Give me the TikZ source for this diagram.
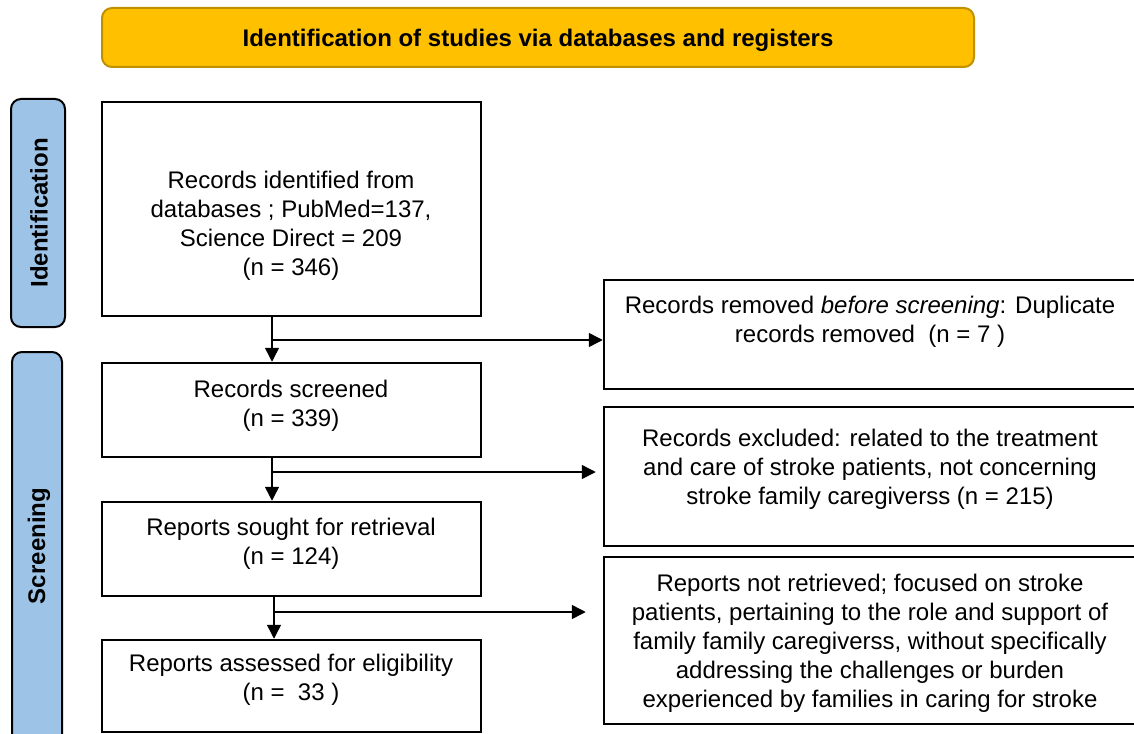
\documentclass[tikz,border=0pt]{standalone}
\usepackage{fontspec}
\setmainfont{Liberation Sans}
\usetikzlibrary{arrows.meta}
\usetikzlibrary{calc}
\usetikzlibrary{fit}
\usetikzlibrary{positioning}

\definecolor{titlefill}{HTML}{FFC000}
\definecolor{titleline}{HTML}{BF9000}
\definecolor{barfill}{HTML}{9DC3E6}

\begin{document}
\begin{tikzpicture}[x=0.5pt,y=-0.5pt,
    every node/.style={font=\fontsize{12}{14.5}\selectfont},
    flowbox/.style={draw,rectangle,line width=1.25pt,inner sep=0pt},
    stagebar/.style={draw,rectangle,rounded corners=5pt,line width=1pt,fill=barfill,inner sep=0pt},
    stagetext/.style={rotate=90,font=\fontsize{12}{14.5}\selectfont\bfseries},
    boxtext/.style={align=center,inner sep=0pt}]

  \useasboundingbox (0,0) rectangle (1134,733);
  \clip (0,0) rectangle (1134,733);

  \node [draw=titleline,fill=titlefill,rounded corners=5pt,line width=1pt,inner sep=0pt,fit={(102,8) (974,67)}] (title) {};
  \node [font=\fontsize{12}{14.5}\selectfont\bfseries] (titletext) at (538,40) {Identification of studies via databases and registers};

  \node [stagebar,fit={(11,99) (65,327)}] (identbar) {};
  \node [stagetext] (identlabel) at (39,213) {Identification};
  \node [stagebar,fit={(12,352) (62,745)}] (screenbar) {};
  \node [stagetext] (screenlabel) at (39,546) {Screening};

  \node [flowbox,fit={(102,102) (481,316)}] (identified) {};
  \node [flowbox,fit={(102,363) (481,457)}] (screened) {};
  \node [flowbox,fit={(102,502) (481,596)}] (sought) {};
  \node [flowbox,fit={(102,640) (481,732)}] (assessed) {};
  \node [flowbox,fit={(604,280) (1136,389)}] (removed) {};
  \node [flowbox,fit={(604,407) (1136,546)}] (excluded) {};
  \node [flowbox,fit={(604,557) (1136,724)}] (notretrieved) {};

  \node [boxtext] (identifiedtext) at (291,226) {Records identified from\\databases ; PubMed=137,\\Science Direct = 209\\(n = 346)};
  \node [boxtext] (screenedtext) at (291,406) {Records screened\\(n = 339)};
  \node [boxtext] (soughttext) at (291,544) {Reports sought for retrieval\\(n = 124)};
  \node [boxtext] (assessedtext) at (291,680) {Reports assessed for eligibility\\(n = \ 33 )};
  \node [boxtext] (removedtext) at (870,322) {Records removed \textit{before screening}: Duplicate\\records removed \ (n = 7 )};
  \node [boxtext] (excludedtext) at (870,469) {Records excluded: related to the treatment\\and care of stroke patients, not concerning\\stroke family caregiverss (n = 215)};
  \node [boxtext] (notretrievedtext) at (870,643) {Reports not retrieved; focused on stroke\\patients, pertaining to the role and support of\\family family caregiverss, without specifically\\addressing the challenges or burden\\experienced by families in caring for stroke};

  \coordinate (split1) at (272,340);
  \coordinate (split2) at (272,472);
  \coordinate (split3) at (274,612);

  \path [line width=0.75pt,>={Triangle[length=7pt,width=7pt]},every edge/.append style={->}]
    (identified.south -| split1) edge (screened.north -| split1)
    (screened.south -| split2)   edge (sought.north -| split2)
    (sought.south -| split3)     edge (assessed.north -| split3)
    (split1) edge (split1 -| removed.west)
    (split2) edge [shorten >=3.5pt] (split2 -| excluded.west)
    (split3) edge [shorten >=8.5pt] (split3 -| notretrieved.west);

\end{tikzpicture}
\end{document}
